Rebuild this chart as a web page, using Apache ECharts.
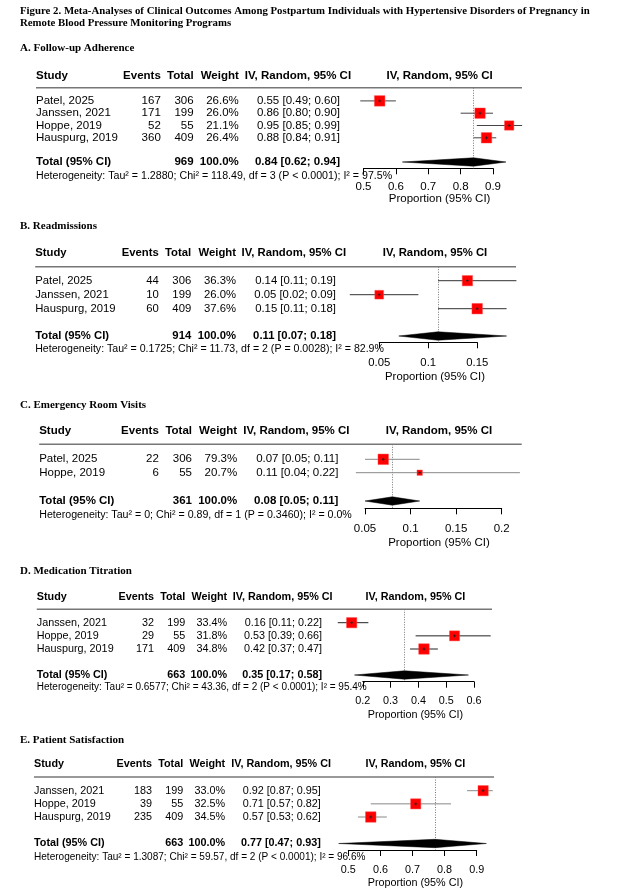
<!DOCTYPE html>
<html><head><meta charset="utf-8">
<script src="https://cdn.jsdelivr.net/npm/echarts@6/dist/echarts.min.js"></script>
<style>html,body{margin:0;padding:0;background:#fff}#c{width:628px;height:895px}</style>
</head><body><div id="c"></div>
<script>
// ---------- text ----------
const figureTitle = ['Figure 2. Meta-Analyses of Clinical Outcomes Among Postpartum Individuals with Hypertensive Disorders of Pregnancy in',
                     'Remote Blood Pressure Monitoring Programs'];
const panelTitles = ['A. Follow-up Adherence', 'B. Readmissions', 'C. Emergency Room Visits', 'D. Medication Titration', 'E. Patient Satisfaction'];
const headers = ['Study', 'Events', 'Total', 'Weight', 'IV, Random, 95% CI'];
const plotHeader = 'IV, Random, 95% CI';
const xAxisTitle = 'Proportion (95% CI)';
const totalLabel = 'Total (95% CI)';

// ---------- A. Follow-up Adherence ----------
const studiesA = ['Patel, 2025', 'Janssen, 2021', 'Hoppe, 2019', 'Hauspurg, 2019'];
const eventsA = [167, 171, 52, 360];
const totalsA = [306, 199, 55, 409];
const weightsA = [26.6, 26.0, 21.1, 26.4];
const estA = [0.55, 0.86, 0.95, 0.88];
const lowerA = [0.49, 0.80, 0.85, 0.84];
const upperA = [0.60, 0.90, 0.99, 0.91];
const pooledA = [0.84, 0.62, 0.94];
const sumA = 969;
const hetA = 'Heterogeneity: Tau² = 1.2880; Chi² = 118.49, df = 3 (P < 0.0001); I² = 97.5%';
const ticksA = [0.5, 0.6, 0.7, 0.8, 0.9];

// ---------- B. Readmissions ----------
const studiesB = ['Patel, 2025', 'Janssen, 2021', 'Hauspurg, 2019'];
const eventsB = [44, 10, 60];
const totalsB = [306, 199, 409];
const weightsB = [36.3, 26.0, 37.6];
const estB = [0.14, 0.05, 0.15];
const lowerB = [0.11, 0.02, 0.11];
const upperB = [0.19, 0.09, 0.18];
const pooledB = [0.11, 0.07, 0.18];
const sumB = 914;
const hetB = 'Heterogeneity: Tau² = 0.1725; Chi² = 11.73, df = 2 (P = 0.0028); I² = 82.9%';
const ticksB = [0.05, 0.1, 0.15];

// ---------- C. Emergency Room Visits ----------
const studiesC = ['Patel, 2025', 'Hoppe, 2019'];
const eventsC = [22, 6];
const totalsC = [306, 55];
const weightsC = [79.3, 20.7];
const estC = [0.07, 0.11];
const lowerC = [0.05, 0.04];
const upperC = [0.11, 0.22];
const pooledC = [0.08, 0.05, 0.11];
const sumC = 361;
const hetC = 'Heterogeneity: Tau² = 0; Chi² = 0.89, df = 1 (P = 0.3460); I² = 0.0%';
const ticksC = [0.05, 0.1, 0.15, 0.2];

// ---------- D. Medication Titration ----------
const studiesD = ['Janssen, 2021', 'Hoppe, 2019', 'Hauspurg, 2019'];
const eventsD = [32, 29, 171];
const totalsD = [199, 55, 409];
const weightsD = [33.4, 31.8, 34.8];
const estD = [0.16, 0.53, 0.42];
const lowerD = [0.11, 0.39, 0.37];
const upperD = [0.22, 0.66, 0.47];
const pooledD = [0.35, 0.17, 0.58];
const sumD = 663;
const hetD = 'Heterogeneity: Tau² = 0.6577; Chi² = 43.36, df = 2 (P < 0.0001); I² = 95.4%';
const ticksD = [0.2, 0.3, 0.4, 0.5, 0.6];

// ---------- E. Patient Satisfaction ----------
const studiesE = ['Janssen, 2021', 'Hoppe, 2019', 'Hauspurg, 2019'];
const eventsE = [183, 39, 235];
const totalsE = [199, 55, 409];
const weightsE = [33.0, 32.5, 34.5];
const estE = [0.92, 0.71, 0.57];
const lowerE = [0.87, 0.57, 0.53];
const upperE = [0.95, 0.82, 0.62];
const pooledE = [0.77, 0.47, 0.93];
const sumE = 663;
const hetE = 'Heterogeneity: Tau² = 1.3087; Chi² = 59.57, df = 2 (P < 0.0001); I² = 96.6%';
const ticksE = [0.5, 0.6, 0.7, 0.8, 0.9];

const panelsData = [
  {studies: studiesA, events: eventsA, totals: totalsA, weights: weightsA, est: estA, lower: lowerA, upper: upperA, pooled: pooledA, sum: sumA, het: hetA, ticks: ticksA},
  {studies: studiesB, events: eventsB, totals: totalsB, weights: weightsB, est: estB, lower: lowerB, upper: upperB, pooled: pooledB, sum: sumB, het: hetB, ticks: ticksB},
  {studies: studiesC, events: eventsC, totals: totalsC, weights: weightsC, est: estC, lower: lowerC, upper: upperC, pooled: pooledC, sum: sumC, het: hetC, ticks: ticksC},
  {studies: studiesD, events: eventsD, totals: totalsD, weights: weightsD, est: estD, lower: lowerD, upper: upperD, pooled: pooledD, sum: sumD, het: hetD, ticks: ticksD},
  {studies: studiesE, events: eventsE, totals: totalsE, weights: weightsE, est: estE, lower: lowerE, upper: upperE, pooled: pooledE, sum: sumE, het: hetE, ticks: ticksE}
];

// ---------- layout (pixels) ----------
const layouts = [
  {titleY: 48, headY: 76, sepY: 87.7, row0: 100.9, step: 12.3, totalY: 162, hetY: 176, axisY: 168.3, tickLabY: 186.7, xlabY: 199,
   studyX: 36, eventsR: 160.8, totalR: 193.6, weightR: 238.8, ciHeadL: 244.8, ciR: 340, plotC: 439.6, sepR: 522, axL: 363.5, axR: 493,
   font: 11.5, hetFont: 10.65, ciColor: '#444'},
  {titleY: 226, headY: 253.3, sepY: 266.7, row0: 280.7, step: 14, totalY: 336, hetY: 349.5, axisY: 342.3, tickLabY: 364, xlabY: 377.3,
   studyX: 35.2, eventsR: 158.8, totalR: 191.2, weightR: 236, ciHeadL: 241.6, ciR: 336, plotC: 435, sepR: 516, axL: 379.2, axR: 477.2,
   font: 11.3, hetFont: 10.6, ciColor: '#333'},
  {titleY: 405, headY: 431, sepY: 444.3, row0: 459.3, step: 13.4, totalY: 501, hetY: 515.3, axisY: 508.3, tickLabY: 529, xlabY: 543,
   studyX: 39.2, eventsR: 158.8, totalR: 192, weightR: 237.2, ciHeadL: 243.2, ciR: 338.4, plotC: 439, sepR: 521.7, axL: 365, axR: 501.7,
   font: 11.5, hetFont: 10.65, ciColor: '#888'},
  {titleY: 571, headY: 596.7, sepY: 609.3, row0: 622.7, step: 13.15, totalY: 675, hetY: 687, axisY: 681.7, tickLabY: 701.7, xlabY: 715,
   studyX: 36.8, eventsR: 154, totalR: 185.2, weightR: 227.2, ciHeadL: 232.8, ciR: 322, plotC: 415.4, sepR: 492, axL: 362.8, axR: 474,
   font: 10.8, hetFont: 10.0, ciColor: '#222'},
  {titleY: 740, headY: 764.3, sepY: 777, row0: 790.7, step: 13.15, totalY: 843.5, hetY: 857, axisY: 850, tickLabY: 870, xlabY: 883.3,
   studyX: 34, eventsR: 152, totalR: 183.2, weightR: 225.2, ciHeadL: 231.2, ciR: 320.8, plotC: 415.4, sepR: 494, axL: 348.3, axR: 476.7,
   font: 10.8, hetFont: 10.05, ciColor: '#888'}
];

const SANS = '"Liberation Sans", Arial, sans-serif';
const SERIF = '"Liberation Serif", "Times New Roman", serif';
const W = 628, H = 895;
const MAX_BOX = 10.5;

function txt(x, y, text, font, align) {
  return {type: 'text', x: x, y: y, silent: true,
    style: {text: text, font: font, fill: '#000', textAlign: align || 'left', textVerticalAlign: 'middle', align: align || 'left', verticalAlign: 'middle'}};
}
function fmtCI(e, l, u) { return e.toFixed(2) + ' [' + l.toFixed(2) + '; ' + u.toFixed(2) + ']'; }

const grids = [], xAxes = [], yAxes = [], series = [], graphics = [];

graphics.push(txt(20, 11.5, figureTitle[0], 'bold 10.8px ' + SERIF));
graphics.push(txt(20, 23.5, figureTitle[1], 'bold 10.8px ' + SERIF));

panelsData.forEach(function (d, k) {
  const L = layouts[k];
  const fN = L.font + 'px ' + SANS, fB = 'bold ' + L.font + 'px ' + SANS;
  const n = d.studies.length;
  const rowY = function (i) { return L.row0 + i * L.step; };

  // grid / axes
  grids.push({left: L.axL, width: L.axR - L.axL, top: L.sepY, height: L.axisY - L.sepY, containLabel: false});
  const step = +(d.ticks[1] - d.ticks[0]).toFixed(4);
  xAxes.push({gridIndex: k, type: 'value', min: d.ticks[0], max: d.ticks[d.ticks.length - 1], interval: step, position: 'bottom',
    axisLine: {show: true, onZero: false, lineStyle: {color: '#000', width: 1}},
    axisTick: {show: true, inside: false, length: 6, lineStyle: {color: '#000', width: 1}},
    axisLabel: {show: true, color: '#000', fontFamily: SANS, fontSize: L.font, margin: L.tickLabY - L.axisY - L.font * 0.55,
      formatter: function (v) { return String(+v.toFixed(4)); }},
    splitLine: {show: false}});
  yAxes.push({gridIndex: k, type: 'value', inverse: true, show: false,
    min: (L.sepY - L.row0) / L.step, max: (L.axisY - L.row0) / L.step});

  const totalIdx = (L.totalY - L.row0) / L.step;
  const wMax = Math.max.apply(null, d.weights);

  // study rows: CI line + weighted square
  series.push({type: 'custom', xAxisIndex: k, yAxisIndex: k, clip: false, silent: true, animation: false,
    data: d.est.map(function (e, i) { return [e, d.lower[i], d.upper[i], i, d.weights[i]]; }),
    renderItem: function (params, api) {
      const c = api.coord([api.value(0), api.value(3)]);
      const lo = api.coord([api.value(1), api.value(3)]);
      const hi = api.coord([api.value(2), api.value(3)]);
      const s = MAX_BOX * Math.sqrt(api.value(4) / wMax);
      return {type: 'group', children: [
        {type: 'line', shape: {x1: lo[0], y1: lo[1], x2: hi[0], y2: hi[1]}, style: {stroke: L.ciColor, lineWidth: 1}},
        {type: 'rect', shape: {x: c[0] - s / 2, y: c[1] - s / 2, width: s, height: s},
          style: {fill: '#ff0000', stroke: 'rgba(255,70,70,0.45)', lineWidth: 1}},
        {type: 'line', shape: {x1: c[0] - 1.5, y1: c[1], x2: c[0] + 1.5, y2: c[1]}, style: {stroke: '#222', lineWidth: 0.8}},
        {type: 'line', shape: {x1: c[0], y1: c[1] - 1.5, x2: c[0], y2: c[1] + 1.5}, style: {stroke: '#222', lineWidth: 0.8}}
      ]};
    }});

  // pooled diamond + dotted pooled line
  series.push({type: 'custom', xAxisIndex: k, yAxisIndex: k, clip: false, silent: true, animation: false,
    data: [[d.pooled[0], d.pooled[1], d.pooled[2], totalIdx]],
    renderItem: function (params, api) {
      const c = api.coord([api.value(0), api.value(3)]);
      const lo = api.coord([api.value(1), api.value(3)]);
      const hi = api.coord([api.value(2), api.value(3)]);
      const h = 4.2;
      return {type: 'polygon', shape: {points: [[lo[0], c[1]], [c[0], c[1] - h], [hi[0], c[1]], [c[0], c[1] + h]]},
        style: {fill: '#000', stroke: '#000', lineWidth: 0.5}, z2: 10};
    },
    markLine: {silent: true, symbol: ['none', 'none'], label: {show: false}, animation: false, z: 1,
      lineStyle: {type: [1, 1.5], color: '#777', width: 1},
      data: [{xAxis: d.pooled[0]}]}});

  // texts
  graphics.push(txt(20, L.titleY, panelTitles[k], 'bold 11px ' + SERIF));
  graphics.push(txt(L.studyX, L.headY, headers[0], fB, 'left'));
  graphics.push(txt(L.eventsR, L.headY, headers[1], fB, 'right'));
  graphics.push(txt(L.totalR, L.headY, headers[2], fB, 'right'));
  graphics.push(txt(L.weightR, L.headY, headers[3], fB, 'right'));
  graphics.push(txt(L.ciHeadL, L.headY, headers[4], fB, 'left'));
  graphics.push(txt(L.plotC, L.headY, plotHeader, fB, 'center'));
  graphics.push({type: 'line', silent: true, shape: {x1: L.studyX, y1: L.sepY, x2: L.sepR, y2: L.sepY}, style: {stroke: '#777', lineWidth: 1.5}});
  for (let i = 0; i < n; i++) {
    const y = rowY(i);
    graphics.push(txt(L.studyX, y, d.studies[i], fN, 'left'));
    graphics.push(txt(L.eventsR, y, String(d.events[i]), fN, 'right'));
    graphics.push(txt(L.totalR, y, String(d.totals[i]), fN, 'right'));
    graphics.push(txt(L.weightR, y, d.weights[i].toFixed(1) + '%', fN, 'right'));
    graphics.push(txt(L.ciR, y, fmtCI(d.est[i], d.lower[i], d.upper[i]), fN, 'right'));
  }
  graphics.push(txt(L.studyX, L.totalY, totalLabel, fB, 'left'));
  graphics.push(txt(L.totalR, L.totalY, String(d.sum), fB, 'right'));
  graphics.push(txt(L.weightR, L.totalY, '100.0%', fB, 'right'));
  graphics.push(txt(L.ciR, L.totalY, fmtCI(d.pooled[0], d.pooled[1], d.pooled[2]), fB, 'right'));
  graphics.push(txt(L.studyX, L.hetY, d.het, L.hetFont + 'px ' + SANS, 'left'));
  graphics.push(txt(L.plotC, L.xlabY, xAxisTitle, fN, 'center'));
});

const chart = echarts.init(document.getElementById('c'), null, {renderer: 'canvas', width: W, height: H});
chart.setOption({
  backgroundColor: '#fff',
  animation: false,
  grid: grids,
  xAxis: xAxes,
  yAxis: yAxes,
  series: series,
  graphic: {elements: graphics}
});
</script>
</body></html>
